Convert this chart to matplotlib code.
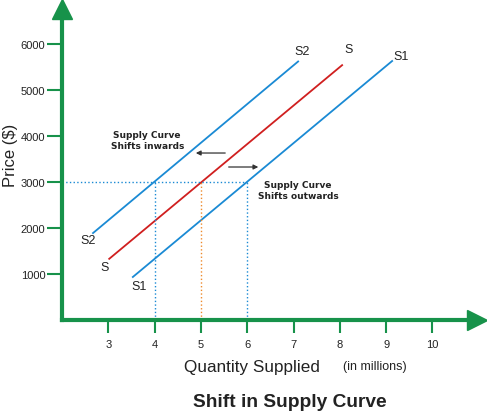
import matplotlib.pyplot as plt

# Données
qty_ticks = [3, 4, 5, 6, 7, 8, 9, 10]
price_ticks = [1000, 2000, 3000, 4000, 5000, 6000]

s2_q = [2.67, 7.10]
s2_p = [1890, 5620]
s_q = [3.02, 8.05]
s_p = [1330, 5540]
s1_q = [3.53, 9.13]
s1_p = [935, 5630]

eq_price = 3000
eq_q = [4, 5, 6]

green = '#17924a'
blue = '#1a8ad4'
red = '#d01f1f'
orange = '#ee8a2c'
txt = '#222222'

plt.rcParams['font.family'] = ['Liberation Sans', 'DejaVu Sans']

fig = plt.figure(figsize=(4.87, 4.14), dpi=100)
# axe placé en pixels : x=2 -> 62 px, prix 0 -> 321 px depuis le haut
W, H = 487, 414
left, bottom = 62, 321
right, top = 477, 10
ax = fig.add_axes([left / W, (H - bottom) / H, (right - left) / W, (bottom - top) / H])
ax.set_xlim(2, 2 + (right - left) / 46.3)
ax.set_ylim(0, (bottom - top) / 0.046)

# Courbes d'offre
ax.plot(s2_q, s2_p, color=blue, lw=1.3)
ax.plot(s_q, s_p, color=red, lw=1.3)
ax.plot(s1_q, s1_p, color=blue, lw=1.3)

# Lignes pointillées d'équilibre
ax.plot([2, eq_q[2]], [eq_price, eq_price], color=blue, lw=1, ls=':')
ax.plot([eq_q[0], eq_q[0]], [0, eq_price], color=blue, lw=1, ls=':')
ax.plot([eq_q[1], eq_q[1]], [0, eq_price], color=orange, lw=1, ls=':')
ax.plot([eq_q[2], eq_q[2]], [0, eq_price], color=blue, lw=1, ls=':')

# Étiquettes des courbes
lab = dict(fontsize=9, color=txt, ha='center', va='center', textcoords='offset pixels')
ax.annotate('S2', (s2_q[1], s2_p[1]), xytext=(4, 10), **lab)
ax.annotate('S', (s_q[1], s_p[1]), xytext=(6, 16), **lab)
ax.annotate('S1', (s1_q[1], s1_p[1]), xytext=(9, 5), **lab)
ax.annotate('S2', (s2_q[0], s2_p[0]), xytext=(-5, -7), **lab)
ax.annotate('S', (s_q[0], s_p[0]), xytext=(-5, -8), **lab)
ax.annotate('S1', (s1_q[0], s1_p[0]), xytext=(6, -9), **lab)

# Annotations des déplacements
ax.text(3.84, 3913, 'Supply Curve\nShifts inwards', fontsize=6.5, fontweight='bold',
        family='DejaVu Sans', ha='center', va='center', color=txt, linespacing=1.35)
ax.text(7.10, 2826, 'Supply Curve\nShifts outwards', fontsize=6.5, fontweight='bold',
        family='DejaVu Sans', ha='center', va='center', color=txt, linespacing=1.35)
ax.annotate('', xy=(4.83, 3630), xytext=(5.585, 3630),
            arrowprops=dict(arrowstyle='-|>', color='#333333', lw=0.9, mutation_scale=7))
ax.annotate('', xy=(6.30, 3326), xytext=(5.54, 3326),
            arrowprops=dict(arrowstyle='-|>', color='#333333', lw=0.9, mutation_scale=7))

# Axes verts avec flèches
for sp in ['top', 'right']:
    ax.spines[sp].set_visible(False)
for sp in ['left', 'bottom']:
    ax.spines[sp].set_color(green)
    ax.spines[sp].set_linewidth(3)
ax.plot(1.0, 0, marker='>', ms=15, color=green, transform=ax.transAxes, clip_on=False)
ax.plot(0, 1.0, marker='^', ms=15, color=green, transform=ax.transAxes, clip_on=False)

ax.set_xticks(qty_ticks)
ax.set_yticks(price_ticks)
ax.tick_params(axis='x', direction='out', length=9, width=1.5, color=green,
               labelsize=8, labelcolor=txt, pad=5)
ax.tick_params(axis='y', direction='out', length=11, width=1.5, color=green,
               labelsize=8, labelcolor=txt, pad=1)

fig.text(10 / W, 1 - 155 / H, 'Price ($)', rotation=90, fontsize=12, color=txt,
         ha='center', va='center')
fig.text(252 / W, 1 - 368 / H, 'Quantity Supplied', fontsize=12.3, color=txt,
         ha='center', va='center')
fig.text(375 / W, 1 - 367 / H, '(in millions)', fontsize=9, color=txt,
         ha='center', va='center')
fig.text(290 / W, 1 - 403 / H, 'Shift in Supply Curve', fontsize=13.8, fontweight='bold',
         color=txt, ha='center', va='center')

fig.savefig('out.png', dpi=100)
plt.close()
